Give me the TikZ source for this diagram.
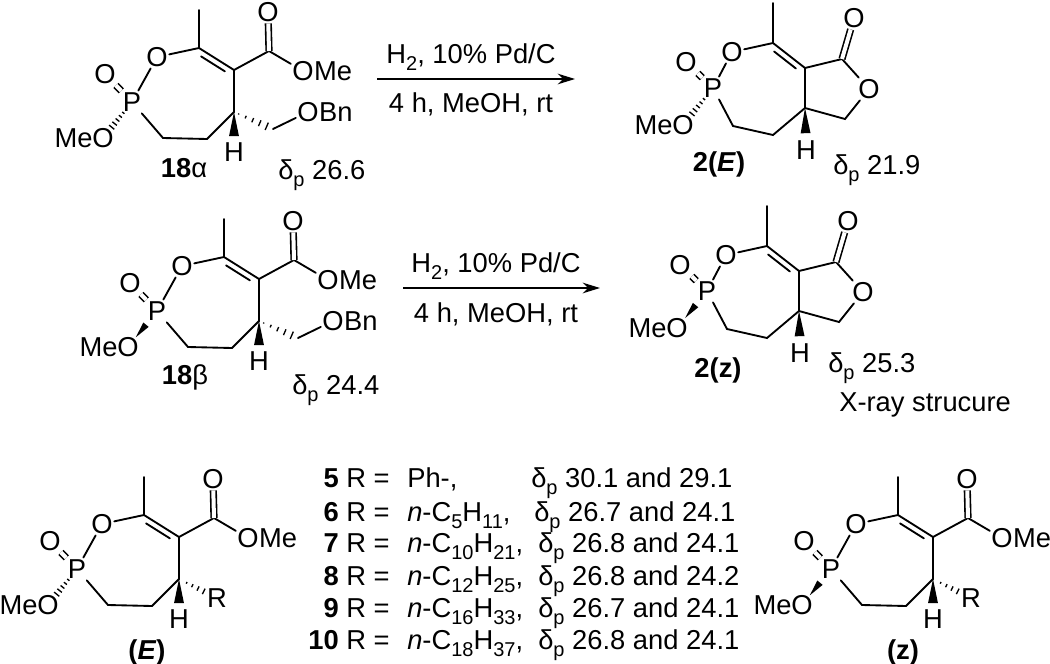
\documentclass[tikz,border=0pt]{standalone}
\usepackage{fontspec}
\setmainfont{Liberation Sans}
\usetikzlibrary{positioning,calc,arrows.meta}

\tikzset{
    atom/.style={inner sep=1pt, text height=14.7pt, text depth=0pt},
    tail/.style={inner sep=0pt, text height=14.7pt, text depth=0pt},
    lbl/.style={inner sep=0pt, text height=14.7pt, text depth=0pt},
    bond/.style={line width=1.4pt, line cap=round},
    dblbond/.style={line width=1.2pt, double, double distance=3pt},
    hashtick/.style={line width=1pt},
    rxnarrow/.style={line width=1.2pt, -{Stealth[length=13pt, width=8pt]}}
}

\newcommand{\subs}[1]{\raisebox{-.26em}{\fontsize{15}{15}\selectfont #1}}
\newcommand{\hashbond}[3]{\foreach \pos in {#3}{%
    \pgfmathsetlengthmacro{\hw}{\pos*3.6pt}%
    \draw[hashtick] ($(#1)!\pos!(#2)!\hw!90:(#2)$) -- ($(#1)!\pos!(#2)!\hw!-90:(#2)$);}}
\newcommand{\wedgebond}[5]{\fill ($(#1)!#3!(#2)$) -- ($(#1)!#4!(#2)!#5!90:(#2)$) -- ($(#1)!#4!(#2)!#5!-90:(#2)$) -- cycle;}
\newcommand{\ringdouble}{\draw[bond] ($(C2)!.15!(C3)!4.5pt!-90:(C3)$) -- ($(C2)!.83!(C3)!4.5pt!-90:(C3)$);}
\newcommand{\meohash}{\hashbond{P}{O4}{.3,.4,.5,.6,.7}}
\newcommand{\meowedge}{\wedgebond{O4}{P}{.27}{.62}{2.6pt}}

\newcommand{\bnside}{
    \coordinate (C7) at (273,129);
    \node[atom] (O5) at (308,112) {O};
    \node[tail, right=-1pt of O5] (Bn) {Bn};
    \hashbond{C4}{C7}{.12,.3,.48,.66,.84,1}
    \draw[bond] (C7) -- (O5);
}
\newcommand{\rside}{
    \node[atom] (R) at (272,131) {R};
    \hashbond{C4}{R}{.2,.35,.5,.65}
}

\newcommand{\esterring}[4]{
    \begin{scope}[shift={#1}, name prefix=#2-]
        \node[atom] (O1) at (157,57) {O};
        \node[atom] (P) at (132,102) {P};
        \node[atom] (O2) at (105,74) {O};
        \node[atom] (O4) at (103,138) {O};
        \node[tail, left=-1.5pt of O4] (Me2) {Me};
        \node[atom] (O6) at (268,12) {O};
        \node[atom] (O3) at (303,71) {O};
        \node[tail, right=-1pt of O3] (Me3) {Me};
        \node[atom] (H) at (234,152) {H};
        \coordinate (C2) at (199,48);
        \coordinate (Me1) at (199,10);
        \coordinate (C3) at (234,70);
        \coordinate (C8) at (269,51);
        \coordinate (C4) at (234,112);
        \coordinate (C5) at (207,139);
        \coordinate (C6) at (163,138);
        \draw[bond] (O1) -- (C2) -- (C3) -- (C4) -- (C5) -- (C6) -- (P) -- (O1);
        \draw[bond] (C2) -- (Me1);
        \draw[bond] (C3) -- (C8) -- (O3);
        \draw[dblbond] (C8) -- (O6);
        \draw[dblbond] (P) -- (O2);
        \ringdouble
        \wedgebond{C4}{H}{0}{.6}{3.7pt}
        #3
        #4
    \end{scope}
}

\newcommand{\lactonering}[3]{
    \begin{scope}[shift={#1}, name prefix=#2-]
        \node[atom] (O1) at (732,52) {O};
        \node[atom] (P) at (713,88) {P};
        \node[atom] (O2) at (686,62) {O};
        \node[atom] (O4) at (683,125) {O};
        \node[tail, left=-1.5pt of O4] (Me2) {Me};
        \node[atom] (O6) at (854,18) {O};
        \node[atom] (O3) at (869,89) {O};
        \node[atom] (H) at (806,150) {H};
        \coordinate (C2) at (773,43);
        \coordinate (Me1) at (773,3);
        \coordinate (C3) at (805,68);
        \coordinate (C8) at (842,59);
        \coordinate (C4) at (805,108);
        \coordinate (C5) at (773,135);
        \coordinate (C6) at (733,126);
        \coordinate (C7) at (845,119);
        \draw[bond] (O1) -- (C2) -- (C3) -- (C4) -- (C5) -- (C6) -- (P) -- (O1);
        \draw[bond] (C2) -- (Me1);
        \draw[bond] (C3) -- (C8) -- (O3) -- (C7) -- (C4);
        \draw[dblbond] (C8) -- (O6);
        \draw[dblbond] (P) -- (O2);
        \ringdouble
        \wedgebond{C4}{H}{0}{.6}{3.7pt}
        #3
    \end{scope}
}

\begin{document}
\begin{tikzpicture}[x=.75pt, y=-.75pt, every node/.append style={font=\fontsize{20.5}{24}\selectfont}]
    \useasboundingbox (0,0) rectangle (1050,664);

    \esterring{(0,0)}{alpha}{\meohash}{\bnside}
    \esterring{(25,209)}{beta}{\meowedge}{\bnside}
    \esterring{(-55,467)}{estE}{\meohash}{\rside}
    \esterring{(699,467)}{estZ}{\meowedge}{\rside}
    \lactonering{(0,0)}{lacE}{\meohash}
    \lactonering{(-6,203)}{lacZ}{\meowedge}

    \coordinate (arrAs) at (377,79);
    \coordinate (arrAe) at (575,79);
    \coordinate (arrBs) at (403,288);
    \coordinate (arrBe) at (600,288);
    \draw[rxnarrow] (arrAs) -- (arrAe);
    \draw[rxnarrow] (arrBs) -- (arrBe);
    \node[lbl] (condAt) at (471,54) {H\subs{2}, 10\% Pd/C};
    \node[lbl] (condAb) at (471,103) {4 h, MeOH, rt};
    \node[lbl] (condBt) at (496,263) {H\subs{2}, 10\% Pd/C};
    \node[lbl] (condBb) at (496,313) {4 h, MeOH, rt};

    \node[lbl] (nameA) at (184,168) {\textbf{18}α};
    \node[lbl] (nameB) at (185,375) {\textbf{18}β};
    \node[lbl] (nameC) at (719,162) {\textbf{2(\textit{E})}};
    \node[lbl] (nameD) at (718,368) {\textbf{2(z)}};
    \node[lbl] (nameE) at (147,650) {\textbf{(\textit{E})}};
    \node[lbl] (nameF) at (903,650) {\textbf{(z)}};

    \node[lbl, anchor=west] (shiftA) at (278,170) {δ\subs{p} 26.6};
    \node[lbl, anchor=west] (shiftB) at (292,385) {δ\subs{p} 24.4};
    \node[lbl, anchor=west] (shiftC) at (833,165) {δ\subs{p} 21.9};
    \node[lbl, anchor=west] (shiftD) at (828,363) {δ\subs{p} 25.3};
    \node[lbl, anchor=west] (xray) at (839,402) {X-ray strucure};

    \node[lbl, anchor=east] (rowa) at (390,478) {\textbf{5} R =};
    \node[lbl, anchor=east] (rowb) at (390,512) {\textbf{6} R =};
    \node[lbl, anchor=east] (rowc) at (390,543) {\textbf{7} R =};
    \node[lbl, anchor=east] (rowd) at (390,576) {\textbf{8} R =};
    \node[lbl, anchor=east] (rowe) at (390,608) {\textbf{9} R =};
    \node[lbl, anchor=east] (rowf) at (390,640) {\textbf{10} R =};

    \node[lbl, anchor=west] (grpa) at (407,478) {Ph-,};
    \node[lbl, anchor=west] (grpb) at (407,512) {\textit{n}-C\subs{5}H\subs{11},};
    \node[lbl, anchor=west] (grpc) at (407,543) {\textit{n}-C\subs{10}H\subs{21},};
    \node[lbl, anchor=west] (grpd) at (407,576) {\textit{n}-C\subs{12}H\subs{25},};
    \node[lbl, anchor=west] (grpe) at (407,608) {\textit{n}-C\subs{16}H\subs{33},};
    \node[lbl, anchor=west] (grpf) at (407,640) {\textit{n}-C\subs{18}H\subs{37},};

    \node[lbl, anchor=west] (vala) at (531,478) {δ\subs{p} 30.1 and 29.1};
    \node[lbl, anchor=west] (valb) at (534,512) {δ\subs{p} 26.7 and 24.1};
    \node[lbl, anchor=west] (valc) at (538,543) {δ\subs{p} 26.8 and 24.1};
    \node[lbl, anchor=west] (vald) at (538,576) {δ\subs{p} 26.8 and 24.2};
    \node[lbl, anchor=west] (vale) at (538,608) {δ\subs{p} 26.7 and 24.1};
    \node[lbl, anchor=west] (valf) at (538,640) {δ\subs{p} 26.8 and 24.1};
\end{tikzpicture}
\end{document}
